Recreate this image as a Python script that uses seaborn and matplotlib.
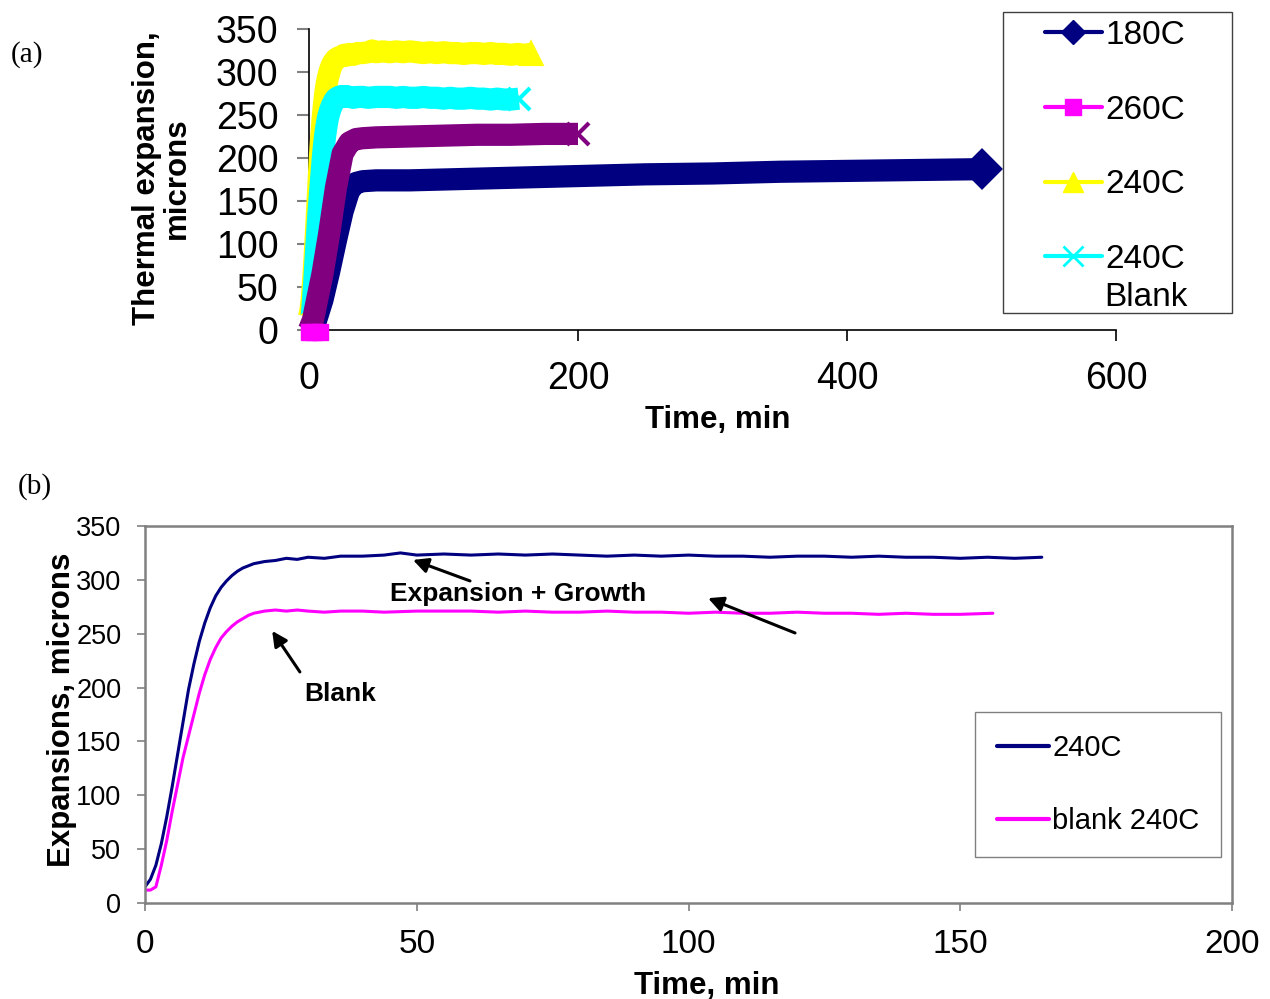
import numpy as np
import pandas as pd
import matplotlib
matplotlib.use("Agg")
import matplotlib.pyplot as plt
from matplotlib.lines import Line2D
from matplotlib.patches import Rectangle
import seaborn as sns

sns.set_style("white")
plt.rcParams['font.family'] = ['Liberation Sans', 'DejaVu Sans']
plt.rcParams['text.color'] = 'black'
plt.rcParams['axes.labelcolor'] = 'black'
plt.rcParams['xtick.color'] = 'black'
plt.rcParams['ytick.color'] = 'black'

# ---------------- data ----------------
# panel (b): 240C run and blank 240C run (also shown in panel (a))
t_240 = [0, 1, 2, 3, 4, 5, 6, 7, 8, 9, 10, 11, 12, 13, 14, 15, 16, 17, 18, 19, 20,
         22, 24, 26, 28, 30, 33, 36, 40, 44, 47, 50, 55, 60, 65, 70, 75, 80, 85, 90,
         95, 100, 105, 110, 115, 120, 125, 130, 135, 140, 145, 150, 155, 160, 165]
y_240 = [15, 22, 35, 55, 80, 108, 138, 168, 198, 222, 243, 260, 274, 285, 293, 299, 304,
         308, 311, 313, 315, 317, 318, 320, 319, 321, 320, 322, 322, 323, 325, 323, 324,
         323, 324, 323, 324, 323, 322, 323, 322, 323, 322, 322, 321, 322, 322, 321, 322,
         321, 321, 320, 321, 320, 321]

t_blank = [0, 1, 2, 3, 4, 5, 6, 7, 8, 9, 10, 11, 12, 13, 14, 15, 16, 17, 18, 19, 20,
           22, 24, 26, 28, 30, 33, 36, 40, 44, 50, 55, 60, 65, 70, 75, 80, 85, 90, 95,
           100, 105, 110, 115, 120, 125, 130, 135, 140, 145, 150, 156]
y_blank = [12, 12, 15, 35, 58, 85, 110, 135, 155, 175, 195, 212, 226, 237, 246, 252, 257,
           261, 264, 267, 269, 271, 272, 271, 272, 271, 270, 271, 271, 270, 271, 271, 271,
           270, 271, 270, 270, 271, 270, 270, 269, 270, 269, 269, 270, 269, 269, 268, 269,
           268, 268, 269]

# panel (a): 180C and 260C runs
t_180 = [0, 5, 10, 15, 20, 25, 30, 35, 40, 50, 60, 75, 100, 150, 200, 250, 300, 350,
         400, 450, 500]
y_180 = [0, 10, 35, 68, 104, 138, 163, 171, 173, 174, 174, 174, 175, 177, 179, 181,
         182, 184, 185, 186, 187]

t_260 = [0, 3, 6, 10, 15, 20, 25, 30, 35, 40, 50, 75, 100, 125, 150, 175, 200]
y_260 = [0, 12, 35, 65, 112, 165, 205, 218, 222, 223, 224, 225, 226, 227, 227, 228, 228]
t_260_start = [0, 4, 8]
y_260_start = [-2, -2, -2]

legend_a = ["180C", "260C", "240C", "240C\nBlank"]
legend_b = ["240C", "blank 240C"]

NAVY = "#000080"
MAG = "#FF00FF"
YEL = "#FFFF00"
CYA = "#00FFFF"
PUR = "#800080"

fig = plt.figure(figsize=(12.70, 9.99), dpi=100)

# ---------------- panel (a) ----------------
axa = fig.add_axes([309/1270, 1-330/999, (1116-309)/1270, (330-29)/999])
band = 16.0

def band_plot(ax, t, y, color, marker, ms, z):
    df = pd.DataFrame({"t": t, "y": y})
    sns.lineplot(data=df, x="t", y="y", ax=ax, color=color, linewidth=band,
                 estimator=None, sort=False, zorder=z, clip_on=False,
                 solid_capstyle="butt", solid_joinstyle="round")
    last = df.iloc[[-1]]
    ax.plot(last["t"], last["y"], marker=marker, ms=ms, color=color, mec=color,
            mew=3, zorder=z, clip_on=False, linestyle="none")

band_plot(axa, t_180, y_180, NAVY, "D", 18, 2)
band_plot(axa, t_240, y_240, YEL, "^", 15, 3)
band_plot(axa, t_blank, y_blank, CYA, "x", 16, 4)
band_plot(axa, t_260, y_260, PUR, "x", 16, 5)
axa.plot(t_260_start, y_260_start, marker="s", ms=12, color=MAG, linestyle="none",
         zorder=6, clip_on=False)

axa.set_xlim(0, 600)
axa.set_ylim(0, 350)
axa.set_xticks([0, 200, 400, 600])
axa.set_yticks(np.arange(0, 351, 50))
for s in ["top", "right"]:
    axa.spines[s].set_visible(False)
for s in ["left", "bottom"]:
    axa.spines[s].set_color("black")
    axa.spines[s].set_linewidth(1.2)
axa.tick_params(axis="y", direction="out", length=9, width=1.5, color="#808080",
                labelsize=27, pad=13, left=True)
axa.tick_params(axis="x", direction="out", length=8, width=1.2, color="black",
                labelsize=27, pad=14, bottom=True)
axa.set_xlabel("Time, min", fontsize=22.5, fontweight="bold")
axa.xaxis.set_label_coords(0.507, -0.25)
axa.set_ylabel("Thermal expansion,\nmicrons", fontsize=22.5, fontweight="bold",
               linespacing=1.0)
axa.yaxis.set_label_coords(-0.145, 0.505)

handles_a = [
    Line2D([], [], color=NAVY, lw=3, marker="D", ms=12),
    Line2D([], [], color=MAG, lw=3, marker="s", ms=12),
    Line2D([], [], color=YEL, lw=3, marker="^", ms=14),
    Line2D([], [], color=CYA, lw=3, marker="x", ms=14, mew=2),
]
labels_first = [lab.split("\n")[0] for lab in legend_a]
lega = fig.legend(handles_a, labels_first, loc="upper left",
                  bbox_to_anchor=(1045/1270, 1-20/999), bbox_transform=fig.transFigure,
                  fontsize=24, frameon=False, borderaxespad=0, borderpad=0,
                  handlelength=1.7, handletextpad=0.12, labelspacing=1.31)
fig.text(1104/1270, 1-297/999, legend_a[3].split("\n")[1], fontsize=24,
         ha="left", va="center")
fig.patches.append(Rectangle((1003/1270, 1-313/999), (1232-1003)/1270, (313-12)/999,
                             transform=fig.transFigure, fill=False,
                             edgecolor="#404040", linewidth=1.0))

# ---------------- panel (b) ----------------
axb = fig.add_axes([145/1270, 1-903/999, (1232-145)/1270, (903-526)/999])
dfb = pd.DataFrame({"t": t_240, "y": y_240})
dfbl = pd.DataFrame({"t": t_blank, "y": y_blank})
sns.lineplot(data=dfb, x="t", y="y", ax=axb, color=NAVY, linewidth=2.2,
             estimator=None, sort=False, label=legend_b[0])
sns.lineplot(data=dfbl, x="t", y="y", ax=axb, color=MAG, linewidth=2.2,
             estimator=None, sort=False, label=legend_b[1])
axb.set_xlim(0, 200)
axb.set_ylim(0, 350)
axb.set_xticks(np.arange(0, 201, 50))
axb.set_yticks(np.arange(0, 351, 50))
for s in axb.spines.values():
    s.set_color("#808080")
    s.set_linewidth(1.8)
axb.tick_params(axis="y", direction="out", length=6, width=1.2, color="#808080",
                labelsize=19.5, pad=11, left=True)
axb.tick_params(axis="x", direction="out", length=6, width=1.2, color="#808080",
                labelsize=24, pad=13, bottom=True)
axb.set_xlabel("Time, min", fontsize=22.5, fontweight="bold")
axb.xaxis.set_label_coords(0.517, -0.18)
axb.set_ylabel("Expansions, microns", fontsize=22.5, fontweight="bold")
axb.yaxis.set_label_coords(-0.063, 0.512)

legb = axb.legend(loc="upper left", bbox_to_anchor=(975/1270, 1-712/999),
                  bbox_transform=fig.transFigure, fontsize=21, frameon=True,
                  fancybox=False, edgecolor="#606060", borderaxespad=0,
                  handlelength=1.8, handletextpad=0.1, labelspacing=1.55,
                  borderpad=0.75)
legb.get_frame().set_linewidth(1.0)
for ln in legb.get_lines():
    ln.set_linewidth(3)

arrow = dict(arrowstyle="-|>,head_length=0.9,head_width=0.45", color="black", lw=2.2,
             shrinkA=0, shrinkB=0)
axb.annotate("", xy=(49.3, 318.5), xytext=(59.8, 299), arrowprops=arrow)
axb.annotate("", xy=(103.6, 283), xytext=(119.6, 250.7), arrowprops=arrow)
axb.annotate("", xy=(23.4, 252.6), xytext=(28.5, 214.5), arrowprops=arrow)
axb.text(68.6, 287, "Expansion + Growth", fontsize=19, fontweight="bold",
         ha="center", va="center")
axb.text(35.9, 194, "Blank", fontsize=19, fontweight="bold", ha="center", va="center")

fig.text(27/1270, 1-55/999, "(a)", fontsize=21, family=["Liberation Serif"],
         ha="center", va="center")
fig.text(35/1270, 1-487/999, "(b)", fontsize=21, family=["Liberation Serif"],
         ha="center", va="center")

fig.savefig("out.png", dpi=100)
